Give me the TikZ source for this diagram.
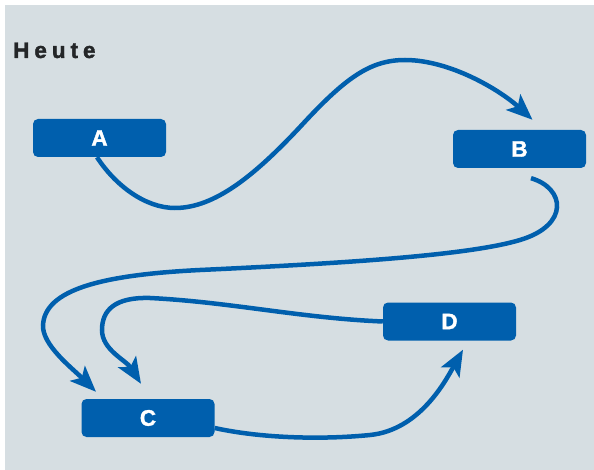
\documentclass[tikz,border=0pt]{standalone}
\usepackage{fontspec}
\setmainfont{Liberation Sans}
\newfontfamily\labelfont[BoldFeatures={FakeBold=1.6}]{Liberation Sans}
\newfontfamily\titlefont[LetterSpace=22,BoldFeatures={FakeBold=1.6}]{Liberation Sans}
\usetikzlibrary{arrows.meta,calc}
\definecolor{panel}{RGB}{214,222,226}
\definecolor{flowblue}{RGB}{0,95,173}
\definecolor{titlegray}{RGB}{36,38,40}
\begin{document}
\begin{tikzpicture}[x=1pt,y=-1pt,
  stepbox/.style={fill=flowblue, rounded corners=5pt, minimum width=133pt,
    minimum height=38pt, inner sep=0pt, text=white,
    font=\labelfont\bfseries\fontsize{22.5}{22.5}\selectfont},
  flow/.style={draw=flowblue, line width=4.5pt,
    -{Stealth[length=26pt,width=21pt,inset=6pt]}}]
  % canvas and panel
  \useasboundingbox (0,0) rectangle (594,470);
  \fill[white] (0,0) rectangle (594,470);
  \fill[panel] (5,5) rectangle (594,470);

  % heading
  \node[anchor=base west, inner sep=0pt, text=titlegray,
    font=\titlefont\bfseries\fontsize{22.5}{22.5}\selectfont] (title) at (13,58) {Heute};

  % process steps
  \node[stepbox] (A) at (99.5,138) {A};
  \node[stepbox] (B) at (519.5,149) {B};
  \node[stepbox] (C) at (148,418) {C};
  \node[stepbox] (D) at (449.5,321.5) {D};

  % A to B
  \coordinate (a0) at ($(A.south)+(-2.5,0)$);
  \coordinate (b1) at ($(B.north)+(13,-10)$);
  \draw[flow] (a0) .. controls (115,185) and (145,208) .. (175,208)
    .. controls (215,208) and (255,175) .. (300,127)
    .. controls (345,78) and (370,60) .. (405,60)
    .. controls (450,60) and (500,90) .. (b1);

  % B to C
  \coordinate (b0) at ($(B.south)+(11.5,10)$);
  \coordinate (c1) at ($(C.north)+(-52,-7)$);
  \draw[flow] (b0) .. controls (565,188) and (570,225) .. (520,240)
    .. controls (470,255) and (350,263) .. (200,270)
    .. controls (100,275) and (45,290) .. (43,325)
    .. controls (42,345) and (72,368) .. (c1);

  % D to C
  \coordinate (c2) at ($(C.north)+(-7,-15)$);
  \draw[flow] (D.west) .. controls (300,318) and (230,302) .. (150,298)
    .. controls (115,297) and (102,310) .. (102,330)
    .. controls (102,350) and (126,360) .. (c2);

  % C to D
  \coordinate (c0) at ($(C.east)+(0,10)$);
  \coordinate (d1) at ($(D.south)+(13.5,9)$);
  \draw[flow] (c0) .. controls (260,438) and (320,440) .. (370,435)
    .. controls (420,430) and (446,380) .. (d1);
\end{tikzpicture}
\end{document}
